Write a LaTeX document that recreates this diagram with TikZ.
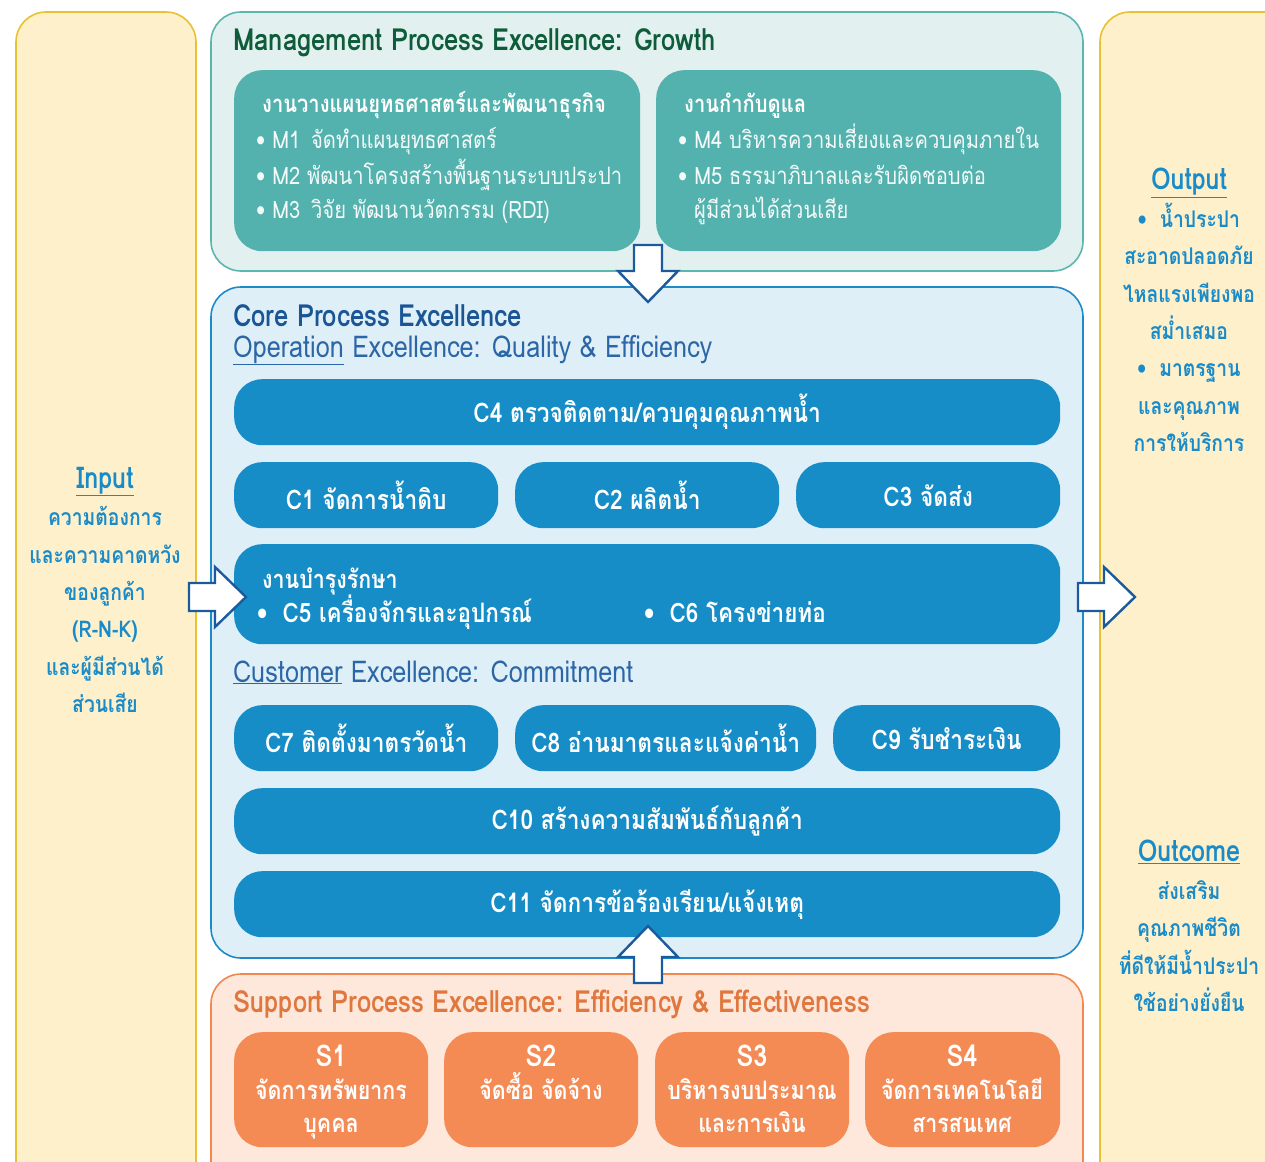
\documentclass[tikz,border=0pt]{standalone}
\usepackage{fontspec}
\setmainfont[Script=Thai,FakeStretch=0.84]{Loma}
\usepackage{tikz}

\definecolor{panelfill}{HTML}{FDF0CB}
\definecolor{panelline}{HTML}{E8C232}
\definecolor{mgmtfill}{HTML}{E2F0EF}
\definecolor{mgmtline}{HTML}{5CB6B0}
\definecolor{mgmtbox}{HTML}{53B2AE}
\definecolor{mgmttitle}{HTML}{0E5C3A}
\definecolor{corefill}{HTML}{DFEFF8}
\definecolor{coreline}{HTML}{1F8AC8}
\definecolor{corebox}{HTML}{168DC7}
\definecolor{coretitle}{HTML}{1A5595}
\definecolor{coresub}{HTML}{2B66A6}
\definecolor{suppfill}{HTML}{FDE8DB}
\definecolor{suppline}{HTML}{F1884F}
\definecolor{suppbox}{HTML}{F48A54}
\definecolor{supptitle}{HTML}{E0773E}
\definecolor{iotext}{HTML}{1A8BC9}
\definecolor{arrowline}{HTML}{1B5A9C}

\tikzset{
  panel/.style={line width=1.6pt, rounded corners=30pt},
  inbox/.style={anchor=north west, inner sep=0pt, rounded corners=28pt},
  cbox/.style={inbox, fill=corebox, text=white, font=\fontsize{27}{30}\selectfont\bfseries},
  sbox/.style={inbox, fill=suppbox},
  stext/.style={anchor=north, align=center, inner sep=0pt, text=white, font=\fontsize{25.5}{33}\selectfont\bfseries},
  lefttext/.style={anchor=base west, inner sep=0pt},
  title/.style={lefttext, font=\fontsize{30.5}{34}\selectfont\bfseries},
  subtitle/.style={lefttext, text=coresub, font=\fontsize{30}{34}\selectfont},
  mtext/.style={lefttext, text=white!93!mgmtbox, font=\fontsize{24}{30}\selectfont},
  mhead/.style={lefttext, text=white, font=\fontsize{24}{28}\selectfont\bfseries},
  ctext/.style={lefttext, text=white, font=\fontsize{26.8}{30}\selectfont\bfseries},
  iotxt/.style={align=center, inner sep=0pt, text=iotext, font=\fontsize{23}{37.4}\selectfont\bfseries},
  fatarrow/.pic={
    \draw[line width=2.4pt, draw=arrowline, fill=white, line join=miter]
      (-26,-14) -- (0,-14) -- (0,-30) -- (31,0) -- (0,30) -- (0,14) -- (-26,14) -- cycle;
  }
}
\newcommand{\iohead}[1]{{\fontsize{30}{37.4}\selectfont\underline{#1}}}
\newcommand{\snum}[1]{{\fontsize{30}{33}\selectfont #1}}

\begin{document}
\begin{tikzpicture}[x=1pt,y=-1pt]
  \clip (0,0) rectangle (1265,1161);
  \fill[white] (0,0) rectangle (1265,1161);

  % side panels
  \draw[panel, draw=panelline, fill=panelfill] (16,12) rectangle (196,1200);
  \draw[panel, draw=panelline, fill=panelfill] (1100,12) rectangle (1300,1200);

  % management processes
  \draw[panel, draw=mgmtline, fill=mgmtfill] (211,12) rectangle (1083,271);
  \node[title, text=mgmttitle] (mtitle) at (233,51) {Management Process Excellence: Growth};
  \node[inbox, fill=mgmtbox, minimum width=406pt, minimum height=181pt] (mplan) at (234,70) {};
  \node[inbox, fill=mgmtbox, minimum width=405pt, minimum height=181pt] (mgov) at (656,70) {};
  \node[mhead] (mplanhead) at (262,113) {งานวางแผนยุทธศาสตร์และพัฒนาธุรกิจ};
  \node[mtext] (m1) at (256,149) {• M1\, จัดทำแผนยุทธศาสตร์};
  \node[mtext] (m2) at (256,184) {• M2 พัฒนาโครงสร้างพื้นฐานระบบประปา};
  \node[mtext] (m3) at (256,218) {• M3\, วิจัย พัฒนานวัตกรรม (RDI)};
  \node[mhead] (mgovhead) at (684,113) {งานกำกับดูแล};
  \node[mtext] (m4) at (678,149) {• M4 บริหารความเสี่ยงและควบคุมภายใน};
  \node[mtext] (m5) at (678,184) {• M5 ธรรมาภิบาลและรับผิดชอบต่อ};
  \node[mtext] (m5b) at (694,218) {ผู้มีส่วนได้ส่วนเสีย};

  % core processes
  \draw[panel, draw=coreline, fill=corefill] (211,287) rectangle (1083,958);
  \node[title, text=coretitle] (ctitle) at (233,326) {Core Process Excellence};
  \node[subtitle] (csub) at (233,357) {\underline{Operation} Excellence: Quality \& Efficiency};
  \node[cbox, minimum width=826pt, minimum height=66pt] (c4) at (234,379) {C4 ตรวจติดตาม/ควบคุมคุณภาพน้ำ};
  \node[cbox, minimum width=264pt, minimum height=66pt] (c1) at (234,462) {C1 จัดการน้ำดิบ};
  \node[cbox, minimum width=264pt, minimum height=66pt] (c2) at (515,462) {C2 ผลิตน้ำ};
  \node[cbox, minimum width=264pt, minimum height=66pt] (c3) at (796,462) {C3 จัดส่ง};
  \node[cbox, minimum width=826pt, minimum height=100pt] (cmaint) at (234,544) {};
  \node[ctext, font=\fontsize{25.5}{28}\selectfont\bfseries] (cmainthead) at (262,588) {งานบำรุงรักษา};
  \node[ctext] (c5) at (257,622) {•\; C5 เครื่องจักรและอุปกรณ์};
  \node[ctext] (c6) at (644,622) {•\; C6 โครงข่ายท่อ};
  \node[subtitle] (csub2) at (233,682) {\underline{Customer} Excellence: Commitment};
  \node[cbox, minimum width=264pt, minimum height=66pt] (c7) at (234,705) {C7 ติดตั้งมาตรวัดน้ำ};
  \node[cbox, minimum width=301pt, minimum height=66pt] (c8) at (515,705) {C8 อ่านมาตรและแจ้งค่าน้ำ};
  \node[cbox, minimum width=227pt, minimum height=66pt] (c9) at (833,705) {C9 รับชำระเงิน};
  \node[cbox, minimum width=826pt, minimum height=66pt] (c10) at (234,788) {C10 สร้างความสัมพันธ์กับลูกค้า};
  \node[cbox, minimum width=826pt, minimum height=66pt] (c11) at (234,871) {C11 จัดการข้อร้องเรียน/แจ้งเหตุ};

  % support processes
  \draw[panel, draw=suppline, fill=suppfill] (211,974) rectangle (1083,1200);
  \node[title, text=supptitle] (stitle) at (233,1012) {Support Process Excellence: Efficiency \& Effectiveness};
  \node[sbox, minimum width=194pt, minimum height=115pt] (s1) at (234,1032) {};
  \node[sbox, minimum width=194pt, minimum height=115pt] (s2) at (444,1032) {};
  \node[sbox, minimum width=194pt, minimum height=115pt] (s3) at (655,1032) {};
  \node[sbox, minimum width=195pt, minimum height=115pt] (s4) at (865,1032) {};
  \node[stext] (s1txt) at (331,1045) {\snum{S1}\\จัดการทรัพยากร\\บุคคล};
  \node[stext] (s2txt) at (541,1045) {\snum{S2}\\จัดซื้อ จัดจ้าง};
  \node[stext] (s3txt) at (752,1045) {\snum{S3}\\บริหารงบประมาณ\\และการเงิน};
  \node[stext] (s4txt) at (962,1045) {\snum{S4}\\จัดการเทคโนโลยี\\สารสนเทศ};

  % flows between the groups
  \pic[rotate=-90] (down) at (648,271) {fatarrow};
  \pic[rotate=90] (up) at (648,957) {fatarrow};
  \pic (into) at (215,597) {fatarrow};
  \pic (outof) at (1104,597) {fatarrow};

  % input, output and outcome
  \node[iotxt] (input) at (105,590)
    {\iohead{Input}\\ความต้องการ\\และความคาดหวัง\\ของลูกค้า\\(R-N-K)\\และผู้มีส่วนได้\\ส่วนเสีย};
  \node[iotxt] (output) at (1189,310)
    {\iohead{Output}\\•\; น้ำประปา\\สะอาดปลอดภัย\\ไหลแรงเพียงพอ\\สม่ำเสมอ\\•\; มาตรฐาน\\และคุณภาพ\\การให้บริการ};
  \node[iotxt] (outcome) at (1189,926)
    {\iohead{Outcome}\\ส่งเสริม\\คุณภาพชีวิต\\ที่ดีให้มีน้ำประปา\\ใช้อย่างยั่งยืน};
\end{tikzpicture}
\end{document}
